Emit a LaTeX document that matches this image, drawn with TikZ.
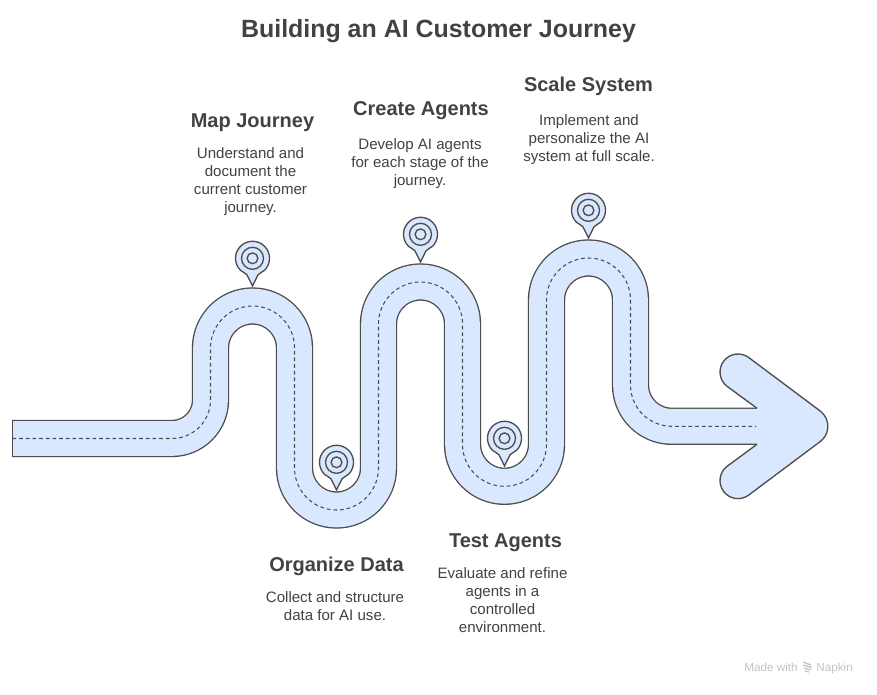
\documentclass[tikz,border=0pt]{standalone}
\usepackage{fontspec}
\setmainfont{Liberation Sans}
\definecolor{roadfill}{HTML}{DAE8FF}
\definecolor{ink}{HTML}{4D4D4D}
\definecolor{txt}{HTML}{424242}
\definecolor{wmgray}{HTML}{C4C4C4}
\newcommand{\pinmark}[2]{%
  \begin{scope}[shift={(#1,#2)}]
    \filldraw[pinline] (-12,12) arc (135:405:17) .. controls (10,14) and (7,14.5) .. (5.5,16.5) -- (0,27.7) -- (-5.5,16.5) .. controls (-7,14.5) and (-10,14) .. cycle;
    \draw[pinline] (0,0) circle (11);
    \draw[pinline] (0,0) circle (5.4);
  \end{scope}}
\tikzset{
  pinline/.style={draw=ink,fill=roadfill,line width=1pt},
  heading/.style={font=\fontsize{15}{18}\selectfont\bfseries,text=txt,inner sep=0pt,anchor=base},
  bodytext/.style={font=\fontsize{11.3}{13.5}\selectfont,text=txt,align=center,inner sep=0pt,anchor=north},
  roadpath/.style={line cap=butt,line join=round}
}
\begin{document}
\begin{tikzpicture}[x=0.75pt,y=0.75pt,yscale=-1]
\useasboundingbox (0,0) rectangle (877,695);
\fill[white] (0,0) rectangle (877,695);
% road
\def\roadline{(12.5,438.5) -- (172,438.5) arc (90:0:38.5) -- (210.5,348) arc (180:360:42) -- (294.5,468) arc (180:0:42) -- (378.5,324) arc (180:360:42) -- (462.5,444.3) arc (180:0:42) -- (546.5,300) arc (180:360:42) -- (630.5,385) arc (180:90:41.3) -- (757,426.3)}
\draw[ink,line width=28pt,roadpath] \roadline;
\draw[roadfill,line width=26pt,roadpath] \roadline;
\draw[ink,line width=1pt] (12.5,420) -- (12.5,457);
% arrow head
\filldraw[draw=ink,fill=roadfill,line width=1pt] (757,408.3) -- (727.2,386.4) arc (126.9:306.9:18) -- (820.3,411.1) arc (-53.1:53.1:19) -- (748.8,495) arc (53.1:233.1:18) -- (757,444.3);
\draw[ink,line width=0.8pt,dash pattern=on 2.8pt off 2.2pt,roadpath] (12.5,438.5) -- (172,438.5) arc (90:0:38.5) -- (210.5,348) arc (180:360:42) -- (294.5,468) arc (180:0:42) -- (378.5,324) arc (180:360:42) -- (462.5,444.3) arc (180:0:42) -- (546.5,300) arc (180:360:42) -- (630.5,385) arc (180:90:41.3) -- (756,426.3);
% pins
\pinmark{252.5}{258.3}
\pinmark{336.5}{462.3}
\pinmark{420.5}{234.3}
\pinmark{504.5}{438.3}
\pinmark{588.5}{210.3}
% texts
\node[font=\fontsize{18.7}{22}\selectfont\bfseries,text=txt,inner sep=0pt,anchor=base] (title) at (438.5,38) {Building an AI Customer Journey};
\node[heading] (h1) at (252.5,127.5) {Map Journey};
\node[bodytext] (b1) at (250.5,147) {Understand and\\document the\\current customer\\journey.};
\node[heading] (h2) at (336.5,571.5) {Organize Data};
\node[bodytext] (b2) at (335,591) {Collect and structure\\data for AI use.};
\node[heading] (h3) at (421,115.5) {Create Agents};
\node[bodytext] (b3) at (420,138) {Develop AI agents\\for each stage of the\\journey.};
\node[heading] (h4) at (505.5,547.5) {Test Agents};
\node[bodytext] (b4) at (502.5,567) {Evaluate and refine\\agents in a\\controlled\\environment.};
\node[heading] (h5) at (588.5,91.5) {Scale System};
\node[bodytext] (b5) at (589,114) {Implement and\\personalize the AI\\system at full scale.};
% watermark
\node[font=\fontsize{8.8}{10}\selectfont,text=wmgray,inner sep=0pt,anchor=base west] (w1) at (744,671) {Made with};
\node[font=\fontsize{8.8}{10}\selectfont,text=wmgray,inner sep=0pt,anchor=base west] (w2) at (816,671) {Napkin};
\draw[wmgray,line width=1pt] (803,662) -- (811,665) (803,665) -- (812,667.5) (804,668) -- (811,670) (805,671) -- (809,672);
\end{tikzpicture}
\end{document}
